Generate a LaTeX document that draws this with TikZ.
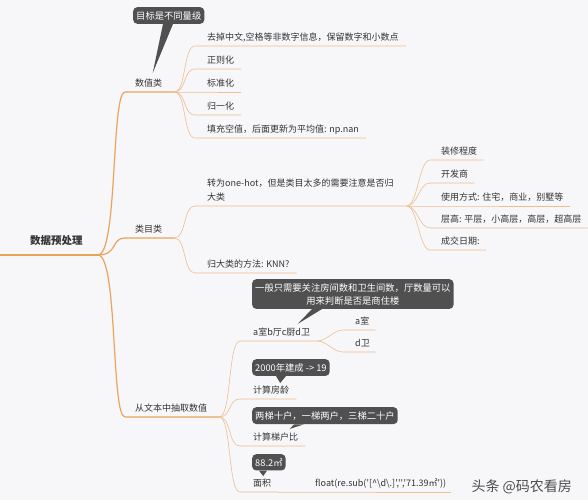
\documentclass[tikz,border=0pt]{standalone}
\usepackage{fontspec}
\setmainfont{Noto Sans CJK SC}
\newfontfamily\codefont{Noto Sans CJK SC}
\definecolor{bgcol}{HTML}{F7F7FA}
\definecolor{maincol}{HTML}{E9A45A}
\definecolor{subcol}{HTML}{EEBE8E}
\definecolor{textcol}{HTML}{333333}
\definecolor{callcol}{HTML}{505050}

\begin{document}
\begin{tikzpicture}[x=1pt, y=-1pt]
	\tikzstyle{topic} = [anchor=south west, inner xsep=0pt, inner ysep=3pt, text depth=2pt, font={\fontsize{9}{14}\selectfont}, text=textcol];
	\tikzstyle{callout} = [anchor=north west, fill=callcol, rounded corners=4pt, inner xsep=3pt, inner ysep=4pt, align=center, text=white, font={\fontsize{9.3}{13}\selectfont}];
	\tikzstyle{mainline} = [draw=maincol, line width=1.2pt];
	\tikzstyle{subline} = [draw=subcol, line width=0.6pt];

	\fill[bgcol] (0,0) rectangle (588,500);
	\useasboundingbox (0,0) rectangle (588,500);

	% root and the three main branches
	\coordinate (edge) at (0,255);
	\node[topic, inner ysep=8pt, font={\fontsize{10.5}{12}\selectfont\bfseries}] (root) at (30,255) {数据预处理};
	\draw[mainline] (edge) -- ([xshift=15pt]root.south east);

	\node[topic] (num) at (135,92) {数值类};
	\node[topic] (cat) at (135,238) {类目类};
	\node[topic] (txt) at (135,417) {从文本中抽取数值};
	\foreach \m in {num, cat, txt}
		\draw[mainline] ([xshift=15pt]root.south east) .. controls +(20,0) and +(-14,0) .. ([xshift=-10pt]\m.south west) -- ([xshift=12pt]\m.south east);

	% numeric
	\def \numsteps {{去掉中文,空格等非数字信息，保留数字和小数点}/46, 正则化/69, 标准化/92, 归一化/115, 填充空值，后面更新为平均值: np.nan/138}
	\foreach \t/\y [count=\i] in \numsteps {
		\node[topic] (num\i) at (207,\y) {\t};
		\draw[subline] ([xshift=12pt]num.south east) .. controls +(12,0) and +(-12,0) .. ([xshift=-12pt]num\i.south west) -- ([xshift=7pt]num\i.south east);
	}

	\node[callout] (goal) at (133,7) {目标是不同量级};
	\fill[callcol] ([xshift=30pt]goal.south west) -- ([xshift=40pt]goal.south west) -- ([xshift=4pt,yshift=3pt]num.north) -- cycle;

	% categories
	\node[topic, align=left] (onehot) at (207,206) {转为one-hot，但是类目太多的需要注意是否归\\大类};
	\node[topic] (knn) at (207,273) {归大类的方法: KNN?};
	\draw[subline] ([xshift=12pt]cat.south east) .. controls +(12,0) and +(-12,0) .. ([xshift=-12pt]onehot.south west) -- ([xshift=13pt]onehot.south east);
	\draw[subline] ([xshift=12pt]cat.south east) .. controls +(12,0) and +(-12,0) .. ([xshift=-12pt]knn.south west) -- ([xshift=7pt]knn.south east);

	\def \attrs {装修程度/160, 开发商/183, 使用方式: 住宅，商业，别墅等/206, 层高: 平层，小高层，高层，超高层/228, 成交日期:/250}
	\foreach \t/\y [count=\i] in \attrs {
		\node[topic] (attr\i) at (441,\y) {\t};
		\draw[subline] ([xshift=13pt]onehot.south east) .. controls +(11,0) and +(-11,0) .. ([xshift=-11pt]attr\i.south west) -- ([xshift=6pt]attr\i.south east);
	}

	% values from text
	\node[topic] (rooms) at (253,341) {a室b厅c厨d卫};
	\node[topic] (age) at (253,399) {计算房龄};
	\node[topic] (ratio) at (253,446) {计算梯户比};
	\node[topic] (area) at (253,492) {面积};
	\foreach \c in {rooms, age, ratio, area}
		\draw[subline] ([xshift=12pt]txt.south east) .. controls +(12,0) and +(-12,0) .. ([xshift=-13pt]\c.south west) -- ([xshift=7pt]\c.south east);

	\node[topic] (roomA) at (355,330) {a室};
	\node[topic] (roomD) at (355,352) {d卫};
	\foreach \c in {roomA, roomD}
		\draw[subline] ([xshift=7pt]rooms.south east) .. controls +(10,0) and +(-10,0) .. ([xshift=-12pt]\c.south west) -- ([xshift=6pt]\c.south east);

	\node[topic, font={\codefont\fontsize{9}{14}\selectfont}] (code) at (315,492) {float(re.sub('[\textasciicircum\textbackslash d\textbackslash.]','','71.39㎡'))};
	\draw[subline] ([xshift=7pt]area.south east) -- ([xshift=-12pt]code.south west) -- ([xshift=5pt]code.south east);

	\node[callout] (roomnote) at (252,279) {一般只需要关注房间数和卫生间数，厅数量可以\\用来判断是否是商住楼};
	\fill[callcol] ([xshift=60pt]roomnote.south west) -- ([xshift=70pt]roomnote.south west) -- ([xshift=16pt,yshift=1pt]rooms.north) -- cycle;

	\node[callout] (agenote) at (252,359) {2000年建成 -> 19};
	\fill[callcol] ([xshift=24pt]agenote.south west) -- ([xshift=34pt]agenote.south west) -- ([xshift=9pt]age.north) -- cycle;

	\node[callout] (rationote) at (252,407) {两梯十户，一梯两户，三梯二十户};
	\fill[callcol] ([xshift=42pt]rationote.south west) -- ([xshift=52pt]rationote.south west) -- ([xshift=14pt,yshift=1pt]ratio.north) -- cycle;

	\node[callout] (areanote) at (252,454) {88.2㎡};
	\fill[callcol] ([xshift=7pt]areanote.south west) -- ([xshift=15pt]areanote.south west) -- ([xshift=1pt]area.north) -- cycle;

	\node[anchor=base west, font={\fontsize{14}{16}\selectfont}, text=gray!60!black] (mark) at (468,491) {头条 @码农看房};
\end{tikzpicture}
\end{document}
